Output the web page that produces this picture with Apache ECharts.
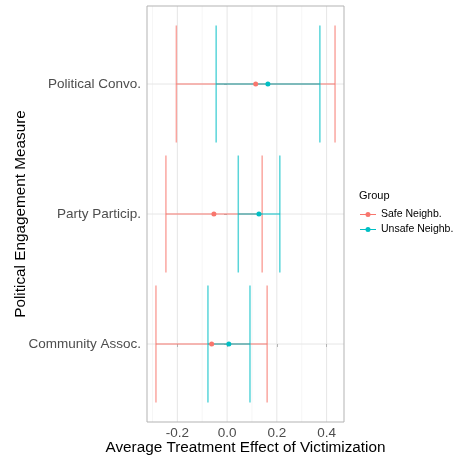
<!DOCTYPE html>
<html>
<head>
<meta charset="utf-8">
<script src="https://cdn.jsdelivr.net/npm/echarts@6/dist/echarts.min.js"></script>
<style>
  html, body { margin: 0; padding: 0; background: #ffffff; }
  #chart { width: 459px; height: 456px; }
</style>
</head>
<body>
<div id="chart"></div>
<script>
// Engagement measures, bottom to top
const categories = ['Community Assoc.', 'Party Particip.', 'Political Convo.'];
const groups = ['Safe Neighb.', 'Unsafe Neighb.'];

// Average treatment effects and confidence bounds
const safeEst  = [-0.062, -0.053, 0.115];
const safeLow  = [-0.286, -0.246, -0.204];
const safeHigh = [0.161, 0.141, 0.434];

const unsafeEst  = [0.007, 0.128, 0.164];
const unsafeLow  = [-0.077, 0.045, -0.044];
const unsafeHigh = [0.092, 0.212, 0.373];

// Axis breaks
const xMajor = [-0.2, 0.0, 0.2, 0.4];
const xMinor = [-0.3, -0.1, 0.1, 0.3];

const RED = '#F8766D', TEAL = '#00BFC4';
const RED_A = 'rgba(248,118,109,0.65)', TEAL_A = 'rgba(0,191,196,0.65)';
const FONT = 'Liberation Sans, Arial, Helvetica, sans-serif';

// x range with 5% padding on each side
const allX = safeLow.concat(safeHigh, unsafeLow, unsafeHigh);
const lo = Math.min(...allX), hi = Math.max(...allX);
const pad = (hi - lo) * 0.05;
const xMin = lo - pad, xMax = hi + pad;
// discrete y range: 0.6 unit expansion
const yMin = -0.6, yMax = categories.length - 1 + 0.6;
const CAP = 0.45;

function errData(low, high, est) {
  return categories.map((c, i) => [i, low[i], high[i], est[i]]);
}

function errRender(stroke) {
  return function (params, api) {
    const y = api.value(0), l = api.value(1), h = api.value(2);
    const a = api.coord([l, y]), b = api.coord([h, y]);
    const top = api.coord([l, y + CAP])[1], bot = api.coord([l, y - CAP])[1];
    const st = { stroke: stroke, lineWidth: 1.5, fill: null };
    return {
      type: 'group',
      children: [
        { type: 'line', shape: { x1: a[0], y1: a[1], x2: b[0], y2: b[1] }, style: st },
        { type: 'line', shape: { x1: a[0], y1: top, x2: a[0], y2: bot }, style: st },
        { type: 'line', shape: { x1: b[0], y1: top, x2: b[0], y2: bot }, style: st }
      ]
    };
  };
}

function vGrid(color, width) {
  return function (params, api) {
    const v = api.value(0);
    const p1 = api.coord([v, yMin]), p2 = api.coord([v, yMax]);
    return { type: 'line', shape: { x1: p1[0], y1: p1[1], x2: p2[0], y2: p2[1] },
             style: { stroke: color, lineWidth: width } };
  };
}
function hGrid(color, width) {
  return function (params, api) {
    const v = api.value(0);
    const p1 = api.coord([xMin, v]), p2 = api.coord([xMax, v]);
    return { type: 'line', shape: { x1: p1[0], y1: p1[1], x2: p2[0], y2: p2[1] },
             style: { stroke: color, lineWidth: width } };
  };
}

const chart = echarts.init(document.getElementById('chart'), null, { renderer: 'canvas' });

const legendIcon = 'path://M0,1.9L16,1.9L16,3.1L0,3.1Z M8,0A2.5,2.5,0,1,1,8,5A2.5,2.5,0,1,1,8,0Z';

chart.setOption({
  animation: false,
  backgroundColor: '#ffffff',
  textStyle: { fontFamily: FONT },
  grid: {
    left: 147, top: 6, width: 197, height: 416,
    containLabel: false, outerBoundsMode: 'none',
    show: true, borderColor: '#B3B3B3', borderWidth: 1, backgroundColor: 'transparent', z: 3
  },
  title: {
    text: 'Group', left: 359, top: 190, padding: 0,
    textStyle: { fontFamily: FONT, fontSize: 11, fontWeight: 'normal', color: '#000000' }
  },
  legend: {
    orient: 'vertical', left: 360, top: 209, padding: 0,
    itemWidth: 16, itemHeight: 5, itemGap: 4,
    icon: legendIcon,
    data: groups,
    textStyle: { fontFamily: FONT, fontSize: 10.5, color: '#000000' },
    selectedMode: false
  },
  xAxis: {
    type: 'value', min: xMin, max: xMax,
    name: 'Average Treatment Effect of Victimization',
    nameLocation: 'middle', nameGap: 18, nameMoveOverlap: false,
    nameTextStyle: { fontFamily: FONT, fontSize: 15.3, color: '#000000' },
    axisLine: { show: false },
    axisTick: { show: true, length: 3, customValues: xMajor, lineStyle: { color: '#B3B3B3' } },
    axisLabel: {
      customValues: xMajor, margin: 4, fontFamily: FONT, fontSize: 13.5, color: '#4D4D4D',
      formatter: v => v.toFixed(1)
    },
    splitLine: { show: false }
  },
  yAxis: {
    type: 'value', min: yMin, max: yMax,
    name: 'Political Engagement Measure',
    nameLocation: 'middle', nameGap: 119, nameRotate: 90, nameMoveOverlap: false,
    nameTextStyle: { fontFamily: FONT, fontSize: 15.3, color: '#000000' },
    axisLine: { show: false },
    axisTick: { show: true, length: 3, customValues: [0, 1, 2], lineStyle: { color: '#B3B3B3' } },
    axisLabel: {
      customValues: [0, 1, 2], margin: 6, fontFamily: FONT, fontSize: 13.5, color: '#4D4D4D',
      formatter: v => categories[Math.round(v)]
    },
    splitLine: { show: false }
  },
  series: [
    { type: 'custom', name: 'minorGrid', silent: true, z: 0, clip: true,
      data: xMinor.map(v => [v]), encode: { x: 0 }, renderItem: vGrid('#F4F4F4', 0.8) },
    { type: 'custom', name: 'majorGridX', silent: true, z: 0, clip: true,
      data: xMajor.map(v => [v]), encode: { x: 0 }, renderItem: vGrid('#E6E6E6', 1) },
    { type: 'custom', name: 'majorGridY', silent: true, z: 0, clip: true,
      data: categories.map((c, i) => [i]), encode: { y: 0 }, renderItem: hGrid('#E6E6E6', 1) },
    { type: 'custom', name: groups[0], silent: true, z: 1,
      itemStyle: { color: RED },
      data: errData(safeLow, safeHigh, safeEst), encode: { y: 0, x: [1, 2] },
      renderItem: errRender(RED_A) },
    { type: 'custom', name: groups[1], silent: true, z: 1,
      itemStyle: { color: TEAL },
      data: errData(unsafeLow, unsafeHigh, unsafeEst), encode: { y: 0, x: [1, 2] },
      renderItem: errRender(TEAL_A) },
    { type: 'scatter', name: groups[0], z: 2, symbol: 'circle', symbolSize: 5,
      itemStyle: { color: RED, opacity: 1 },
      data: categories.map((c, i) => [safeEst[i], i]) },
    { type: 'scatter', name: groups[1], z: 2, symbol: 'circle', symbolSize: 5,
      itemStyle: { color: TEAL, opacity: 1 },
      data: categories.map((c, i) => [unsafeEst[i], i]) }
  ]
});
</script>
</body>
</html>
